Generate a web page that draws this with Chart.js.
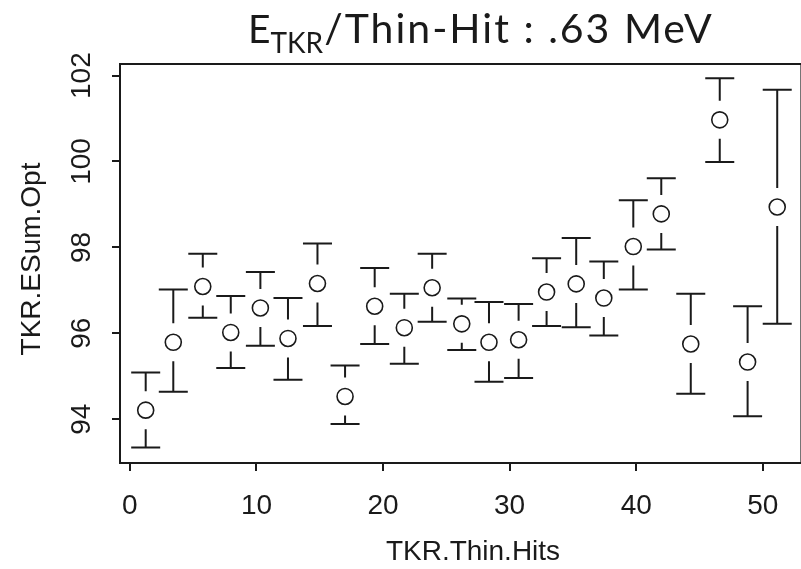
<!DOCTYPE html>
<html><head><meta charset="utf-8">
<script src="https://cdn.jsdelivr.net/npm/chart.js@4.4.0/dist/chart.umd.min.js"></script>
<style>html,body{margin:0;padding:0;background:#fff}#wrap{width:801px;height:569px;position:relative}</style>
</head><body><div id="wrap"><canvas id="c" width="801" height="569"></canvas></div>
<script>
// ---- data ----
const xValues = [1.25, 3.43, 5.76, 7.97, 10.31, 12.49, 14.82, 17.0, 19.34, 21.68, 23.88, 26.22, 28.37, 30.71, 32.92, 35.26, 37.44, 39.77, 41.98, 44.31, 46.6, 48.8, 51.14];
const yValues = [94.21, 95.79, 97.09, 96.02, 96.59, 95.88, 97.16, 94.53, 96.63, 96.13, 97.06, 96.22, 95.79, 95.85, 96.96, 97.15, 96.82, 98.02, 98.78, 95.75, 100.97, 95.33, 98.94];
const yLow    = [93.34, 94.64, 96.36, 95.19, 95.71, 94.92, 96.17, 93.89, 95.75, 95.29, 96.27, 95.61, 94.87, 94.96, 96.17, 96.14, 95.95, 97.02, 97.95, 94.59, 99.99, 94.07, 96.22];
const yHigh   = [95.09, 97.02, 97.85, 96.87, 97.43, 96.82, 98.09, 95.25, 97.52, 96.92, 97.85, 96.81, 96.73, 96.68, 97.75, 98.22, 97.67, 99.10, 99.61, 96.92, 101.94, 96.63, 101.67];
const xTicks = [0, 10, 20, 30, 40, 50];
const yTicks = [94, 96, 98, 100, 102];
const titleMain = 'E';
const titleSub = 'TKR';
const titleRest = '/Thin-Hit : .63 MeV';
const xTitle = 'TKR.Thin.Hits';
const yTitle = 'TKR.ESum.Opt';

const INK = '#1a1a1a';
const tickFont = '28px "Liberation Sans", Arial, sans-serif';
const titleFamily = 'Lato, "Open Sans", sans-serif';

const decor = {
  id: 'decor',
  beforeDatasetsDraw(chart) {
    const ctx = chart.ctx, xs = chart.scales.x, ys = chart.scales.y;
    ctx.save();
    ctx.strokeStyle = INK; ctx.lineWidth = 2; ctx.lineCap = 'butt';
    const gap = 19, half = 14.5;
    for (let i = 0; i < xValues.length; i++) {
      const px = xs.getPixelForValue(xValues[i]);
      const py = ys.getPixelForValue(yValues[i]);
      const ph = ys.getPixelForValue(yHigh[i]);
      const pl = ys.getPixelForValue(yLow[i]);
      ctx.beginPath();
      if (py - ph > gap) { ctx.moveTo(px, ph); ctx.lineTo(px, py - gap); }
      if (pl - py > gap) { ctx.moveTo(px, py + gap); ctx.lineTo(px, pl); }
      ctx.moveTo(px - half, ph); ctx.lineTo(px + half, ph);
      ctx.moveTo(px - half, pl); ctx.lineTo(px + half, pl);
      ctx.stroke();
    }
    ctx.restore();
  },
  afterDraw(chart) {
    const ctx = chart.ctx, xs = chart.scales.x, ys = chart.scales.y, a = chart.chartArea;
    ctx.save();
    ctx.strokeStyle = INK; ctx.lineWidth = 2;
    ctx.strokeRect(a.left, a.top, a.right - a.left + 10, a.bottom - a.top);
    ctx.fillStyle = INK;
    ctx.font = tickFont; ctx.textAlign = 'center'; ctx.textBaseline = 'alphabetic';
    xTicks.forEach(v => ctx.fillText(String(v), xs.getPixelForValue(v), 514));
    yTicks.forEach(v => {
      ctx.save();
      ctx.translate(90, ys.getPixelForValue(v));
      ctx.rotate(-Math.PI / 2);
      ctx.textAlign = 'center'; ctx.textBaseline = 'alphabetic';
      ctx.fillText(String(v), 0, 0);
      ctx.restore();
    });
    ctx.font = '28px "Liberation Sans", Arial, sans-serif';
    ctx.textAlign = 'center';
    ctx.fillText(xTitle, 473, 560);
    ctx.save();
    ctx.translate(40, 259);
    ctx.rotate(-Math.PI / 2);
    ctx.fillText(yTitle, 0, 0);
    ctx.restore();
    // main title with subscript
    ctx.textAlign = 'left';
    let tx = 248;
    ctx.font = '39px ' + titleFamily;
    ctx.fillText(titleMain, tx, 43);
    tx += ctx.measureText(titleMain).width;
    ctx.font = '28px ' + titleFamily;
    ctx.fillText(titleSub, tx, 53);
    tx += ctx.measureText(titleSub).width + 1;
    ctx.font = '41px ' + titleFamily;
    ctx.letterSpacing = '2px';
    ctx.fillText(titleRest, tx, 43);
    ctx.letterSpacing = '0px';
    ctx.restore();
  }
};

new Chart(document.getElementById('c'), {
  type: 'scatter',
  data: {
    datasets: [{
      data: xValues.map((x, i) => ({ x: x, y: yValues[i] })),
      pointStyle: 'circle',
      pointRadius: 8,
      pointHoverRadius: 8,
      pointBorderWidth: 1.6,
      borderColor: INK,
      backgroundColor: 'rgba(0,0,0,0)',
      showLine: false
    }]
  },
  options: {
    responsive: false,
    animation: false,
    devicePixelRatio: 1,
    layout: { padding: { top: 64, right: 0, left: 0, bottom: 0 } },
    plugins: { legend: { display: false }, tooltip: { enabled: false }, title: { display: false } },
    scales: {
      x: {
        type: 'linear', position: 'bottom', min: -0.78, max: 52.26,
        afterBuildTicks: s => { s.ticks = xTicks.map(v => ({ value: v })); },
        afterFit: s => { s.height = 106; s.paddingLeft = 0; s.paddingRight = 0; },
        ticks: { display: false },
        grid: { drawOnChartArea: false, drawTicks: true, tickLength: 8, color: INK, lineWidth: 2 },
        border: { display: true, color: INK, width: 2 }
      },
      y: {
        type: 'linear', position: 'left', min: 92.98, max: 102.27,
        afterBuildTicks: s => { s.ticks = yTicks.map(v => ({ value: v })); },
        afterFit: s => { s.width = 120; s.paddingTop = 0; s.paddingBottom = 0; },
        ticks: { display: false },
        grid: { drawOnChartArea: false, drawTicks: true, tickLength: 8, color: INK, lineWidth: 2 },
        border: { display: true, color: INK, width: 2 }
      }
    }
  },
  plugins: [decor]
});
</script></body></html>
